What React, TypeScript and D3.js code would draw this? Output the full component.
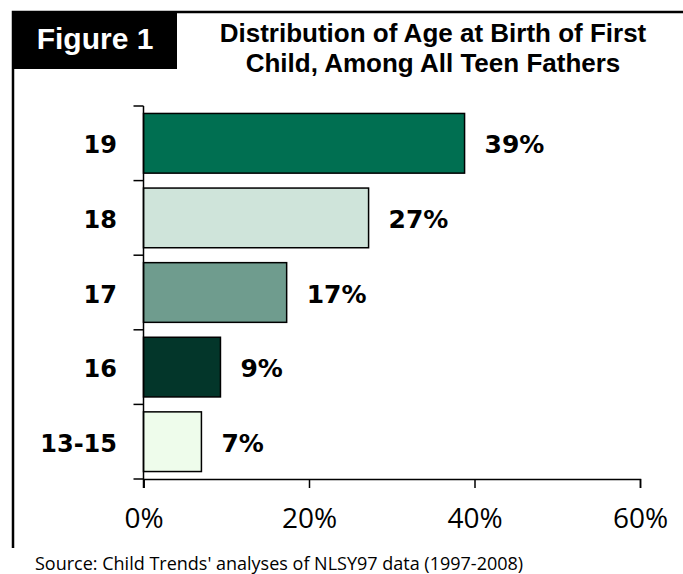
import React, { useEffect, useRef } from "react";
import * as d3 from "d3";

const ages = ["19", "18", "17", "16", "13-15"]; // top to bottom
const shares = [38.8, 27.2, 17.3, 9.3, 7.0]; // percent of teen fathers
const barColors = ["#006F51", "#CFE4DA", "#6F9C8E", "#03362A", "#EEFCEB"];
const xTicks = [0, 20, 40, 60];

const titleLines = [
  "Distribution of Age at Birth of First",
  "Child, Among All Teen Fathers",
];
const sourceNote = "Source: Child Trends' analyses of NLSY97 data (1997-2008)";

const App = () => {
  const svgRef = useRef<SVGSVGElement | null>(null);

  useEffect(() => {
    document.body.style.margin = "0";
    const width = 683;
    const height = 574;

    const x = d3.scaleLinear().domain([0, 60]).range([143.5, 640]);
    const y = d3
      .scaleBand()
      .domain(ages)
      .range([106, 479])
      .paddingInner(0.2)
      .paddingOuter(0.1);

    const svg = d3.select(svgRef.current);
    svg.selectAll("*").remove();
    svg.attr("width", width).attr("height", height);

    // frame + figure box
    svg
      .append("path")
      .attr("d", "M13,548 L13,12 L683,12")
      .attr("fill", "none")
      .attr("stroke", "#000")
      .attr("stroke-width", 2.5);
    svg
      .append("rect")
      .attr("x", 13)
      .attr("y", 12)
      .attr("width", 164)
      .attr("height", 57)
      .attr("fill", "#000");
    svg
      .append("text")
      .attr("x", 95)
      .attr("y", 49)
      .attr("text-anchor", "middle")
      .attr("fill", "#fff")
      .style("font-family", "'Liberation Sans', Arial, sans-serif")
      .style("font-weight", "bold")
      .style("font-size", "30px")
      .text("Figure 1");

    // title
    svg
      .append("g")
      .selectAll("text")
      .data(titleLines)
      .enter()
      .append("text")
      .attr("x", 433)
      .attr("y", (d, i) => 42 + i * 30)
      .attr("text-anchor", "middle")
      .style("font-family", "'Liberation Sans', Arial, sans-serif")
      .style("font-weight", "bold")
      .style("font-size", "26px")
      .text((d) => d);

    // bars
    svg
      .append("g")
      .selectAll("rect")
      .data(shares)
      .enter()
      .append("rect")
      .attr("x", x(0))
      .attr("y", (d, i) => y(ages[i]) as number)
      .attr("width", (d) => x(d) - x(0))
      .attr("height", y.bandwidth())
      .attr("fill", (d, i) => barColors[i])
      .attr("stroke", "#000")
      .attr("stroke-width", 1.5);

    // value labels
    svg
      .append("g")
      .selectAll("text")
      .data(shares)
      .enter()
      .append("text")
      .attr("x", (d) => x(d) + 20)
      .attr("y", (d, i) => (y(ages[i]) as number) + y.bandwidth() / 2 + 10)
      .style("font-family", "'DejaVu Sans', Verdana, sans-serif")
      .style("font-weight", "bold")
      .style("font-size", "25px")
      .text((d) => `${Math.round(d)}%`);

    // y axis: line, ticks at band edges, labels
    const yAxis = svg.append("g");
    yAxis
      .append("line")
      .attr("x1", x(0))
      .attr("x2", x(0))
      .attr("y1", 106)
      .attr("y2", 488)
      .attr("stroke", "#000")
      .attr("stroke-width", 1.5);
    const edges = ages.map((a) => (y(a) as number) - (y.step() * y.paddingInner()) / 2);
    edges.push(479);
    yAxis
      .selectAll("line.tick")
      .data(edges)
      .enter()
      .append("line")
      .attr("class", "tick")
      .attr("x1", x(0) - 10)
      .attr("x2", x(0))
      .attr("y1", (d) => d)
      .attr("y2", (d) => d)
      .attr("stroke", "#000")
      .attr("stroke-width", 1.5);
    yAxis
      .selectAll("text")
      .data(ages)
      .enter()
      .append("text")
      .attr("x", 117)
      .attr("y", (d) => (y(d) as number) + y.bandwidth() / 2 + 10)
      .attr("text-anchor", "end")
      .style("font-family", "'DejaVu Sans', Verdana, sans-serif")
      .style("font-weight", "bold")
      .style("font-size", "24px")
      .text((d) => d);

    // x axis
    const xAxis = svg
      .append("g")
      .attr("transform", "translate(0, 479)")
      .call(
        d3
          .axisBottom(x)
          .tickValues(xTicks)
          .tickSize(9)
          .tickPadding(20)
          .tickFormat((d) => `${d}%`)
      );
    xAxis.select(".domain").attr("stroke-width", 1.5);
    xAxis.selectAll(".tick line").attr("stroke-width", 1.5);
    xAxis
      .selectAll(".tick text")
      .style("font-family", "'Open Sans', sans-serif")
      .style("font-size", "28px")
      .attr("fill", "#000");

    // source
    svg
      .append("text")
      .attr("x", 35)
      .attr("y", 570)
      .style("font-family", "'Open Sans', sans-serif")
      .style("font-size", "18px")
      .text(sourceNote);
  }, []);

  return <svg ref={svgRef} style={{ display: "block", background: "#fff" }}></svg>;
};

export default App;
